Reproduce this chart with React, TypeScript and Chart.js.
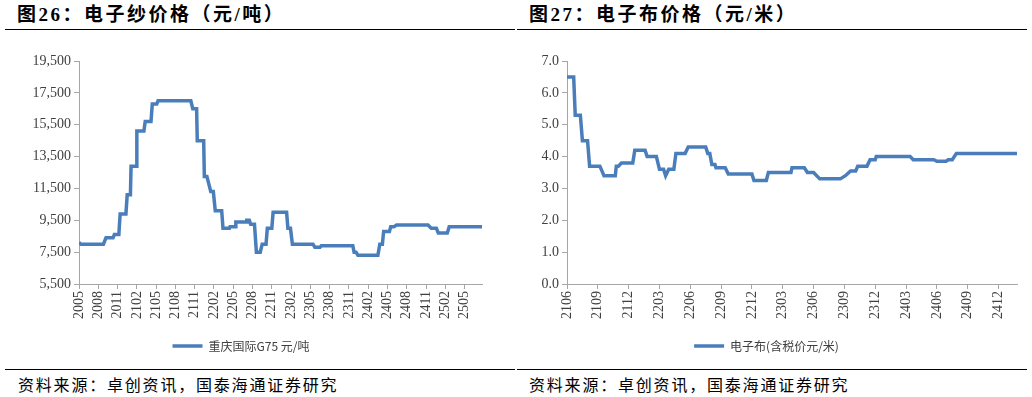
import React, { useEffect, useRef } from 'react';
import { Chart, registerables } from 'chart.js';

Chart.register(...registerables);

// ---- Figure 26: electronic yarn price (yuan / ton) ----
const yarnTickLabels = ['2005', '2008', '2011', '2102', '2105', '2108', '2111', '2202', '2205', '2208', '2211', '2302', '2305', '2308', '2311', '2402', '2405', '2408', '2411', '2502', '2505'];
// months elapsed since 2020-05
const yarnMonth = [0, 0.3, 3.8, 4.2, 5.3, 5.5, 6.2, 6.4, 7.3, 7.5, 8.0, 8.1, 8.9, 9.0, 10.1, 10.3, 11.2, 11.4, 12.1, 12.3, 17.4, 17.7, 18.3, 18.4, 19.4, 19.5, 19.9, 20.5, 20.9, 21.2, 22.2, 22.4, 23.4, 23.5, 24.3, 24.4, 26.0, 26.1, 26.5, 26.7, 27.3, 27.6, 28.2, 28.5, 29.1, 29.3, 30.0, 30.2, 32.3, 32.5, 32.9, 33.2, 36.4, 36.7, 37.5, 37.7, 42.6, 42.8, 43.1, 43.4, 46.5, 46.8, 47.2, 47.4, 48.3, 48.5, 49.0, 49.4, 54.3, 54.8, 55.6, 55.9, 57.3, 57.6, 62.7];
const yarnPrice = [8100, 8000, 8000, 8400, 8400, 8600, 8600, 9900, 9900, 11100, 11100, 12900, 12900, 15100, 15100, 15700, 15700, 16800, 16800, 17000, 17000, 16500, 16500, 14500, 14500, 12250, 12250, 11300, 11300, 10100, 10100, 9000, 9000, 9100, 9100, 9400, 9400, 9500, 9500, 9250, 9250, 7500, 7500, 8000, 8000, 9000, 9000, 10000, 10000, 9000, 9000, 8000, 8000, 7800, 7800, 7900, 7900, 7500, 7500, 7300, 7300, 8000, 8000, 8800, 8800, 9100, 9100, 9200, 9200, 9000, 9000, 8700, 8700, 9100, 9100];

// ---- Figure 27: electronic cloth price (yuan / meter) ----
const clothTickLabels = ['2106', '2109', '2112', '2203', '2206', '2209', '2212', '2303', '2306', '2309', '2312', '2403', '2406', '2409', '2412'];
// months elapsed since 2021-06
const clothMonth = [0, 0.65, 0.8, 1.3, 1.5, 2.0, 2.2, 3.2, 3.6, 4.7, 4.8, 5.0, 5.3, 6.4, 6.6, 7.6, 7.8, 8.7, 9.0, 9.4, 9.6, 9.9, 10.4, 10.6, 11.5, 11.8, 13.5, 13.7, 13.9, 14.1, 14.4, 14.5, 15.4, 15.7, 18.0, 18.2, 19.4, 19.6, 21.8, 21.9, 23.1, 23.4, 24.0, 24.6, 26.6, 27.1, 27.6, 28.1, 28.3, 29.2, 29.5, 30.0, 30.1, 33.4, 33.7, 35.7, 36.0, 36.9, 37.1, 37.5, 37.9, 43.8];
const clothPrice = [6.5, 6.5, 5.3, 5.3, 4.5, 4.5, 3.7, 3.7, 3.4, 3.4, 3.7, 3.7, 3.8, 3.8, 4.2, 4.2, 4.0, 4.0, 3.6, 3.6, 3.4, 3.6, 3.6, 4.1, 4.1, 4.3, 4.3, 4.1, 4.1, 3.75, 3.75, 3.65, 3.65, 3.45, 3.45, 3.25, 3.25, 3.5, 3.5, 3.65, 3.65, 3.5, 3.5, 3.3, 3.3, 3.4, 3.55, 3.55, 3.7, 3.7, 3.9, 3.9, 4.0, 4.0, 3.9, 3.9, 3.85, 3.85, 3.9, 3.9, 4.1, 4.1];

const LINE_COLOR = '#4A7EBB';
const AXIS_COLOR = '#a6a6a6';
const TEXT_COLOR = '#404040';
const SERIF = "'Liberation Serif', 'Times New Roman', serif";
const CJK = "'Noto Sans CJK SC', 'Liberation Serif', sans-serif";

type PanelCfg = {
  label: string;
  months: number[];
  values: number[];
  tickLabels: string[];
  xMax: number;
  yMin: number;
  yMax: number;
  yStep: number;
  yFormat: (v: number) => string;
  yAxisWidth: number;
  rightPad: number;
};

function LineChart({ cfg, width, height }: { cfg: PanelCfg; width: number; height: number }) {
  const ref = useRef<HTMLCanvasElement | null>(null);
  useEffect(() => {
    if (!ref.current) return;
    const points = cfg.months.map((m, i) => ({ x: m, y: cfg.values[i] }));
    const chart = new Chart(ref.current, {
      type: 'line',
      data: {
        datasets: [
          {
            label: cfg.label,
            data: points,
            borderColor: LINE_COLOR,
            backgroundColor: LINE_COLOR,
            borderWidth: 3.5,
            pointRadius: 0,
            tension: 0,
            fill: false,
          },
        ],
      },
      options: {
        responsive: false,
        animation: false,
        devicePixelRatio: 1,
        layout: { padding: { top: 21, right: cfg.rightPad, left: 0, bottom: 0 } },
        plugins: {
          tooltip: { enabled: false },
          legend: {
            display: true,
            position: 'bottom',
            labels: {
              usePointStyle: true,
              pointStyle: 'line',
              pointStyleWidth: 30,
              color: TEXT_COLOR,
              font: { family: CJK, size: 12 },
              padding: 8,
            },
          },
        },
        scales: {
          x: {
            type: 'linear',
            min: 0,
            max: cfg.xMax,
            afterBuildTicks: (s: any) => {
              s.ticks = cfg.tickLabels.map((_, i) => ({ value: i * 3 }));
            },
            afterFit: (s: any) => {
              s.height = 48;
            },
            ticks: {
              autoSkip: false,
              maxRotation: 90,
              minRotation: 90,
              padding: 2,
              color: TEXT_COLOR,
              font: { family: SERIF, size: 14 },
              callback: (v: any) => cfg.tickLabels[Math.round(Number(v) / 3)] ?? '',
            },
            grid: { drawOnChartArea: false, drawTicks: true, tickLength: 5, color: AXIS_COLOR },
            border: { color: AXIS_COLOR, width: 1 },
          },
          y: {
            min: cfg.yMin,
            max: cfg.yMax,
            afterFit: (s: any) => {
              s.width = cfg.yAxisWidth;
            },
            ticks: {
              stepSize: cfg.yStep,
              padding: 3,
              color: TEXT_COLOR,
              font: { family: SERIF, size: 14 },
              callback: (v: any) => cfg.yFormat(Number(v)),
            },
            grid: { drawOnChartArea: false, drawTicks: true, tickLength: 5, color: AXIS_COLOR },
            border: { color: AXIS_COLOR, width: 1 },
          },
        },
      },
    } as any);
    return () => chart.destroy();
  }, [cfg]);
  return <canvas ref={ref} width={width} height={height} style={{ width, height, display: 'block' }} />;
}

const yarnCfg: PanelCfg = {
  label: '重庆国际G75 元/吨',
  months: yarnMonth,
  values: yarnPrice,
  tickLabels: yarnTickLabels,
  xMax: 62.7,
  yMin: 5500,
  yMax: 19500,
  yStep: 2000,
  yFormat: (v) => v.toLocaleString('en-US'),
  yAxisWidth: 79,
  rightPad: 34,
};

const clothCfg: PanelCfg = {
  label: '电子布(含税价元/米)',
  months: clothMonth,
  values: clothPrice,
  tickLabels: clothTickLabels,
  xMax: 43.8,
  yMin: 0,
  yMax: 7,
  yStep: 1,
  yFormat: (v) => v.toFixed(1),
  yAxisWidth: 51,
  rightPad: 15,
};

const titleStyle: React.CSSProperties = {
  position: 'absolute',
  top: 3,
  fontFamily: "'Liberation Serif', 'Noto Sans CJK SC', serif",
  fontWeight: 'bold',
  fontSize: 19,
  letterSpacing: 2.5,
  color: '#000',
  whiteSpace: 'nowrap',
  lineHeight: '24px',
};
const ruleStyle: React.CSSProperties = { position: 'absolute', height: 0, borderTop: '1.5px solid #000' };
const sourceStyle: React.CSSProperties = {
  position: 'absolute',
  top: 373,
  fontFamily: CJK,
  fontSize: 16,
  letterSpacing: 1.8,
  color: '#000',
  whiteSpace: 'nowrap',
  lineHeight: '22px',
};

export default function App() {
  return (
    <div style={{ position: 'absolute', left: 0, top: 0, width: 1032, height: 397, background: '#fff', overflow: 'hidden' }}>
      <div style={{ ...titleStyle, left: 17 }}>图26：电子纱价格（元/吨）</div>
      <div style={{ ...ruleStyle, left: 5, width: 510, top: 29 }} />
      <div style={{ ...titleStyle, left: 529 }}>图27：电子布价格（元/米）</div>
      <div style={{ ...ruleStyle, left: 517, width: 510, top: 29 }} />

      <div style={{ position: 'absolute', left: 0, top: 40 }}>
        <LineChart cfg={yarnCfg} width={516} height={322} />
      </div>
      <div style={{ position: 'absolute', left: 516, top: 40 }}>
        <LineChart cfg={clothCfg} width={516} height={322} />
      </div>

      <div style={{ ...ruleStyle, left: 5, width: 510, top: 369 }} />
      <div style={{ ...sourceStyle, left: 18 }}>资料来源：卓创资讯，国泰海通证券研究</div>
      <div style={{ ...ruleStyle, left: 517, width: 510, top: 369 }} />
      <div style={{ ...sourceStyle, left: 529 }}>资料来源：卓创资讯，国泰海通证券研究</div>
    </div>
  );
}
